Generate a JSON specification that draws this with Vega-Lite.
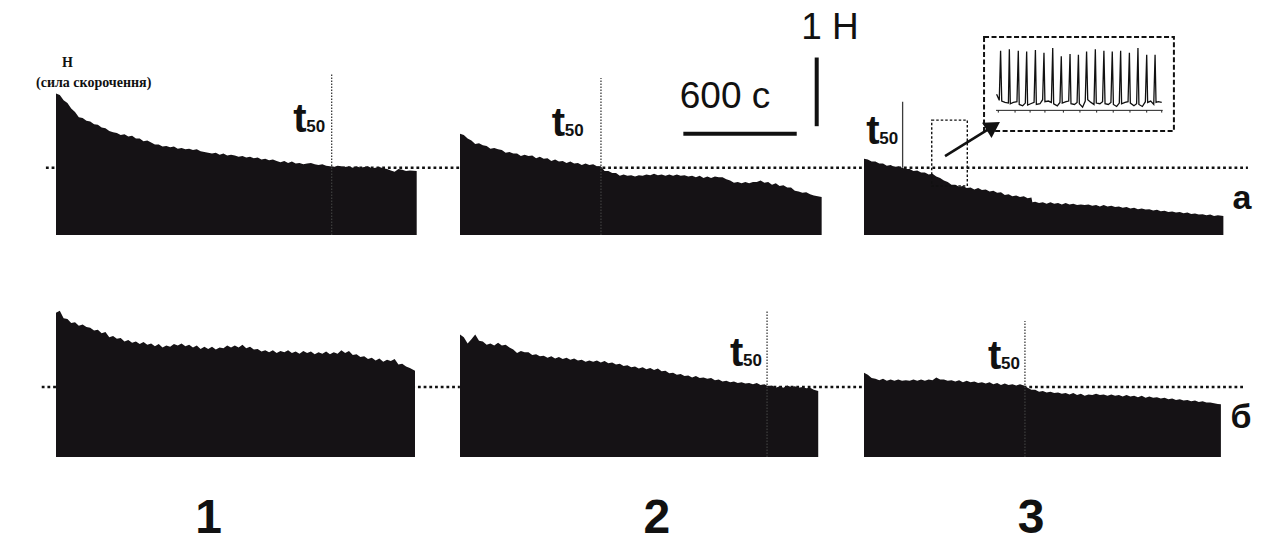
{
  "$schema": "https://vega.github.io/schema/vega-lite/v6.json",
  "background": "white",
  "padding": {"left": 36, "top": 9, "right": 0, "bottom": 0},
  "bounds": "flush",
  "data": {
    "values": [
      {"kind": "trace", "row": "а", "col": "1",
       "t": [0,20,40,60,80,100,120,140,160,180,200,220,240,260,280,300,320,340,360,380,400,420,440,460,480,500,520,540,560,580,600,620,640,660,680,700,720,740,760,780,800,820,840,860,880,900,920,940,960,980,1000,1020,1040,1060,1080,1100,1120,1140,1160,1180,1200,1220,1240,1260,1280,1300,1320,1340,1360,1380,1400,1420,1440,1460,1480,1500,1520,1540,1560,1580,1600,1620,1640,1660,1680,1700,1720,1740,1760,1780,1800,1820,1840,1860,1896],
       "f": [2.08,2.06,1.98,1.94,1.86,1.81,1.73,1.72,1.68,1.67,1.63,1.62,1.58,1.57,1.53,1.51,1.50,1.47,1.48,1.45,1.46,1.42,1.42,1.38,1.39,1.36,1.33,1.33,1.30,1.31,1.29,1.30,1.27,1.28,1.26,1.27,1.25,1.26,1.23,1.22,1.21,1.20,1.21,1.18,1.20,1.17,1.18,1.17,1.15,1.16,1.14,1.15,1.13,1.14,1.11,1.12,1.10,1.11,1.09,1.07,1.09,1.06,1.08,1.05,1.06,1.04,1.05,1.06,1.04,1.03,1.04,1.02,1.01,1.00,1.02,1.01,1.00,1.01,0.99,1.01,0.99,1.00,1.01,0.98,0.99,1.00,0.98,0.97,0.95,0.93,0.97,0.96,0.94,0.95,0.94]},
      {"kind": "trace", "row": "а", "col": "2",
       "t": [0,20,40,60,80,100,120,140,160,180,200,220,240,260,280,300,320,340,360,380,400,420,440,460,480,500,520,540,560,580,600,620,640,660,680,700,720,740,760,780,800,820,840,860,880,900,920,940,960,980,1000,1020,1040,1060,1080,1100,1120,1140,1160,1180,1200,1220,1240,1260,1280,1300,1320,1340,1360,1380,1400,1420,1440,1460,1480,1500,1520,1540,1560,1580,1600,1620,1640,1660,1680,1700,1720,1740,1760,1780,1800,1820,1840,1860,1901],
       "f": [1.49,1.47,1.42,1.39,1.34,1.35,1.32,1.31,1.27,1.28,1.26,1.25,1.21,1.22,1.20,1.20,1.16,1.18,1.16,1.17,1.13,1.15,1.12,1.13,1.09,1.11,1.08,1.09,1.06,1.08,1.05,1.06,1.03,1.05,1.03,1.04,1.01,1.01,0.94,0.94,0.91,0.91,0.87,0.89,0.87,0.88,0.86,0.88,0.87,0.89,0.88,0.90,0.88,0.89,0.87,0.89,0.87,0.89,0.87,0.88,0.86,0.87,0.85,0.87,0.84,0.86,0.84,0.86,0.85,0.85,0.82,0.80,0.77,0.78,0.76,0.78,0.76,0.78,0.78,0.80,0.77,0.78,0.74,0.76,0.72,0.73,0.70,0.70,0.65,0.64,0.62,0.63,0.60,0.58,0.56]},
      {"kind": "trace", "row": "а", "col": "3",
       "t": [0,20,40,60,80,100,120,140,160,180,200,220,240,260,280,300,320,340,360,380,400,420,440,460,480,500,520,540,560,580,600,620,640,660,680,700,720,740,760,780,800,820,840,860,880,885,900,920,940,960,980,1000,1020,1040,1060,1080,1100,1120,1140,1160,1180,1200,1220,1240,1260,1280,1300,1320,1340,1360,1380,1400,1420,1440,1460,1480,1500,1520,1540,1560,1580,1600,1620,1640,1660,1680,1700,1720,1740,1760,1780,1800,1820,1840,1860,1889],
       "f": [1.12,1.11,1.08,1.08,1.05,1.05,1.02,1.03,1.00,1.01,0.99,0.97,0.97,0.94,0.95,0.92,0.92,0.89,0.90,0.86,0.84,0.80,0.78,0.74,0.74,0.71,0.72,0.69,0.70,0.67,0.69,0.66,0.67,0.64,0.65,0.62,0.63,0.59,0.60,0.57,0.58,0.56,0.57,0.54,0.55,0.48,0.49,0.47,0.48,0.46,0.48,0.46,0.47,0.45,0.47,0.45,0.46,0.44,0.45,0.44,0.45,0.43,0.44,0.42,0.44,0.42,0.43,0.41,0.42,0.40,0.41,0.39,0.40,0.38,0.39,0.375,0.38,0.36,0.37,0.35,0.355,0.34,0.345,0.33,0.34,0.32,0.33,0.31,0.315,0.30,0.305,0.29,0.30,0.28,0.29,0.28]},
      {"kind": "trace", "row": "б", "col": "1",
       "t": [0,20,40,60,80,100,120,140,160,180,200,220,240,260,280,300,320,340,360,380,400,420,440,460,480,500,520,540,560,580,600,620,640,660,680,700,720,740,760,780,800,820,840,860,880,900,920,940,960,980,1000,1020,1040,1060,1080,1100,1120,1140,1160,1180,1200,1220,1240,1260,1280,1300,1320,1340,1360,1380,1400,1420,1440,1460,1480,1500,1520,1540,1560,1580,1600,1620,1640,1660,1680,1700,1720,1740,1760,1780,1800,1820,1840,1860,1887],
       "f": [2.12,2.15,2.04,2.03,1.97,1.98,1.93,1.95,1.91,1.90,1.86,1.87,1.82,1.84,1.76,1.78,1.74,1.75,1.70,1.72,1.68,1.70,1.66,1.69,1.65,1.67,1.63,1.66,1.61,1.64,1.62,1.66,1.64,1.67,1.63,1.65,1.61,1.64,1.59,1.62,1.59,1.62,1.58,1.61,1.60,1.64,1.61,1.64,1.61,1.65,1.60,1.62,1.58,1.59,1.55,1.57,1.54,1.57,1.53,1.56,1.54,1.57,1.53,1.55,1.52,1.56,1.53,1.55,1.51,1.54,1.52,1.55,1.51,1.54,1.52,1.57,1.53,1.56,1.50,1.51,1.47,1.48,1.44,1.46,1.42,1.45,1.40,1.43,1.41,1.44,1.36,1.37,1.33,1.31,1.27]},
      {"kind": "trace", "row": "б", "col": "2",
       "t": [0,20,40,60,80,100,120,140,160,180,200,220,240,260,280,300,320,340,360,380,400,420,440,460,480,500,520,540,560,580,600,620,640,660,680,700,720,740,760,780,800,820,840,860,880,900,920,940,960,980,1000,1020,1040,1060,1080,1100,1120,1140,1160,1180,1200,1220,1240,1260,1280,1300,1320,1340,1360,1380,1400,1420,1440,1460,1480,1500,1520,1540,1560,1580,1600,1620,1640,1660,1680,1700,1720,1740,1760,1780,1800,1820,1840,1860,1883],
       "f": [1.80,1.76,1.67,1.73,1.80,1.71,1.70,1.65,1.67,1.64,1.68,1.64,1.65,1.61,1.58,1.53,1.56,1.54,1.54,1.50,1.51,1.48,1.49,1.46,1.48,1.45,1.47,1.44,1.46,1.43,1.45,1.42,1.43,1.40,1.42,1.40,1.42,1.39,1.41,1.38,1.39,1.36,1.37,1.34,1.35,1.32,1.33,1.30,1.32,1.29,1.31,1.28,1.30,1.26,1.27,1.23,1.24,1.21,1.22,1.19,1.20,1.17,1.19,1.16,1.17,1.15,1.16,1.13,1.14,1.11,1.12,1.10,1.11,1.09,1.10,1.08,1.09,1.07,1.09,1.06,1.07,1.04,1.05,1.02,1.04,1.02,1.05,1.03,1.04,1.02,1.03,1.01,1.02,0.99,0.97]},
      {"kind": "trace", "row": "б", "col": "3",
       "t": [0,20,40,60,80,100,120,140,160,180,200,220,240,260,280,300,320,340,360,380,400,420,440,460,480,500,520,540,560,580,600,620,640,660,680,700,720,740,760,780,800,820,840,860,880,900,920,940,960,980,1000,1020,1040,1060,1080,1100,1120,1140,1160,1180,1200,1220,1240,1260,1280,1300,1320,1340,1360,1380,1400,1420,1440,1460,1480,1500,1520,1540,1560,1580,1600,1620,1640,1660,1680,1700,1720,1740,1760,1780,1800,1820,1840,1860,1876],
       "f": [1.24,1.21,1.16,1.15,1.13,1.15,1.12,1.14,1.12,1.14,1.12,1.13,1.12,1.14,1.12,1.14,1.12,1.14,1.13,1.17,1.14,1.14,1.12,1.13,1.11,1.13,1.10,1.12,1.10,1.11,1.09,1.10,1.08,1.10,1.07,1.09,1.06,1.08,1.06,1.07,1.05,1.07,1.05,1.02,0.99,0.99,0.96,0.97,0.95,0.96,0.94,0.95,0.93,0.94,0.92,0.94,0.91,0.93,0.90,0.92,0.91,0.93,0.91,0.92,0.90,0.92,0.90,0.91,0.89,0.91,0.89,0.90,0.88,0.90,0.87,0.89,0.87,0.88,0.86,0.87,0.85,0.86,0.84,0.85,0.83,0.84,0.82,0.83,0.81,0.82,0.80,0.80,0.79,0.78,0.775]},

      {"kind": "ref", "row": "а", "col": "1", "t": -53, "t2": 2123, "f": 0.99},
      {"kind": "ref", "row": "а", "col": "2", "t": 0, "t2": 2123, "f": 0.99},
      {"kind": "ref", "row": "а", "col": "3", "t": 0, "t2": 2018, "f": 0.99},
      {"kind": "ref", "row": "б", "col": "1", "t": -75, "t2": 2123, "f": 1.03},
      {"kind": "ref", "row": "б", "col": "2", "t": 0, "t2": 2123, "f": 1.03},
      {"kind": "ref", "row": "б", "col": "3", "t": 0, "t2": 2003, "f": 1.03},

      {"kind": "t50", "row": "а", "col": "1", "t": 1449, "f": 0, "f2": 2.37, "lt": 1247, "lf": 1.52, "style": "dot"},
      {"kind": "t50", "row": "а", "col": "2", "t": 741, "f": 0, "f2": 2.31, "lt": 482, "lf": 1.46, "style": "dot"},
      {"kind": "t50", "row": "а", "col": "3", "t": 203, "f": 0.99, "f2": 1.96, "lt": 12, "lf": 1.34, "style": "solid"},
      {"kind": "t50", "row": "б", "col": "2", "t": 1614, "f": 0, "f2": 2.15, "lt": 1419, "lf": 1.34, "style": "dot"},
      {"kind": "t50", "row": "б", "col": "3", "t": 846, "f": 0, "f2": 2.0, "lt": 652, "lf": 1.29, "style": "dot"},

      {"kind": "bar", "row": "а", "col": "2", "t": 1174, "t2": 1770, "f": 1.49, "f2": 1.49},
      {"kind": "bar", "row": "а", "col": "2", "t": 1875, "t2": 1875, "f": 1.60, "f2": 2.61},
      {"kind": "btxt", "row": "а", "col": "2", "t": 1393, "f": 1.87, "label": "600 с"},
      {"kind": "btxt", "row": "а", "col": "2", "t": 1945, "f": 2.88, "label": "1 Н"},

      {"kind": "rtxt", "row": "а", "col": "3", "t": 1987, "f": 0.38, "label": "а"},
      {"kind": "rtxt", "row": "б", "col": "3", "t": 1982, "f": 0.43, "label": "б"},
      {"kind": "ctxt", "row": "б", "col": "1", "t": 802, "f": -1.118, "label": "1"},
      {"kind": "ctxt", "row": "б", "col": "2", "t": 1035, "f": -1.118, "label": "2"},
      {"kind": "ctxt", "row": "б", "col": "3", "t": 878, "f": -1.118, "label": "3"},
      {"kind": "htxt", "row": "а", "col": "1", "t": 32, "f": 2.47, "label": "Н"},
      {"kind": "htxt", "row": "а", "col": "1", "t": -105, "f": 2.18, "label": "(сила скорочення)"},

      {"kind": "zbox", "row": "а", "col": "3", "t": 356, "t2": 543, "f": 1.69, "f2": 0.72},
      {"kind": "ibox", "row": "а", "col": "3", "t": 631, "t2": 1629, "f": 2.91, "f2": 1.53},
      {"kind": "arrow", "row": "а", "col": "3", "t": 426, "t2": 680, "f": 1.16, "f2": 1.60},
      {"kind": "ahead", "row": "а", "col": "3", "t": 680, "f": 1.60},

      {"kind": "iaxis", "row": "а", "col": "3", "t": 694, "t2": 1570, "f": 1.833, "f2": 1.833},
      {"kind": "iaxis", "row": "а", "col": "3", "t": 706, "t2": 706, "f": 1.833, "f2": 1.80},
      {"kind": "iaxis", "row": "а", "col": "3", "t": 794, "t2": 794, "f": 1.833, "f2": 1.80},
      {"kind": "iaxis", "row": "а", "col": "3", "t": 873, "t2": 873, "f": 1.833, "f2": 1.80},
      {"kind": "iaxis", "row": "а", "col": "3", "t": 951, "t2": 951, "f": 1.833, "f2": 1.80},
      {"kind": "iaxis", "row": "а", "col": "3", "t": 1048, "t2": 1048, "f": 1.833, "f2": 1.80},
      {"kind": "iaxis", "row": "а", "col": "3", "t": 1135, "t2": 1135, "f": 1.833, "f2": 1.80},
      {"kind": "iaxis", "row": "а", "col": "3", "t": 1223, "t2": 1223, "f": 1.833, "f2": 1.80},
      {"kind": "iaxis", "row": "а", "col": "3", "t": 1310, "t2": 1310, "f": 1.833, "f2": 1.80},
      {"kind": "iaxis", "row": "а", "col": "3", "t": 1398, "t2": 1398, "f": 1.833, "f2": 1.80},
      {"kind": "iaxis", "row": "а", "col": "3", "t": 1486, "t2": 1486, "f": 1.833, "f2": 1.80},
      {"kind": "iaxis", "row": "а", "col": "3", "t": 1565, "t2": 1565, "f": 1.833, "f2": 1.80},
      {"kind": "inset", "row": "а", "col": "3",
       "t": [697,711,718,724,741,759,764,769,785,804,811,816,834,848,855,860,876,894,901,906,925,939,946,951,969,985,992,997,1016,1030,1037,1042,1062,1076,1083,1088,1106,1120,1127,1132,1149,1163,1170,1176,1193,1209,1216,1221,1240,1254,1261,1267,1284,1298,1305,1311,1328,1342,1349,1354,1372,1388,1395,1400,1419,1433,1440,1445,1463,1479,1486,1491,1507,1523,1530,1535,1547,1565],
       "f": [2.07,1.98,2.71,1.97,1.95,1.94,2.73,1.93,1.95,1.96,2.71,1.92,1.90,1.94,2.70,1.91,1.93,1.95,2.72,1.92,1.93,1.99,2.68,1.96,1.97,1.95,2.75,1.93,1.90,1.95,2.63,1.94,1.96,1.97,2.66,1.93,1.92,1.95,2.65,1.93,1.88,1.97,2.70,1.99,1.95,1.92,2.73,1.94,1.93,1.96,2.71,1.93,1.92,1.95,2.70,1.92,1.89,1.94,2.71,1.93,1.95,1.96,2.68,1.94,1.90,1.93,2.75,1.92,1.89,1.96,2.65,1.95,1.97,1.92,2.65,1.95,1.96,1.95]}
    ]
  },
  "facet": {
    "row": {"field": "row", "type": "nominal", "header": null, "sort": ["а", "б"]},
    "column": {"field": "col", "type": "nominal", "header": null, "sort": ["1", "2", "3"]}
  },
  "spacing": {"row": 18, "column": 14},
  "spec": {
    "width": 390,
    "height": 204,
    "layer": [
      {
        "transform": [{"filter": "datum.kind === 'ref'"}],
        "mark": {"type": "rule", "color": "#111111", "strokeWidth": 2.6, "strokeDash": [2.8, 2.9], "strokeCap": "butt"},
        "encoding": {
          "x": {"field": "t", "type": "quantitative", "scale": {"domain": [0, 2050], "nice": false, "zero": false}},
          "x2": {"field": "t2"},
          "y": {"field": "f", "type": "quantitative", "scale": {"domain": [0, 3], "nice": false, "zero": false}}
        }
      },
      {
        "transform": [{"filter": "datum.kind === 'trace'"}, {"flatten": ["t", "f"]}],
        "mark": {"type": "area", "color": "#151215", "orient": "vertical", "interpolate": "linear"},
        "encoding": {
          "x": {"field": "t", "type": "quantitative", "scale": {"domain": [0, 2050], "nice": false, "zero": false}},
          "y": {"field": "f", "type": "quantitative", "scale": {"domain": [0, 3], "nice": false, "zero": false}}
        }
      },
      {
        "transform": [{"filter": "datum.kind === 't50'"}],
        "mark": {"type": "rule", "color": "#3c3c3c", "strokeWidth": 1.3},
        "encoding": {
          "x": {"field": "t", "type": "quantitative", "scale": {"domain": [0, 2050], "nice": false, "zero": false}},
          "y": {"field": "f", "type": "quantitative", "scale": {"domain": [0, 3], "nice": false, "zero": false}},
          "y2": {"field": "f2"},
          "strokeDash": {"field": "style", "type": "nominal", "scale": {"domain": ["dot", "solid"], "range": [[1.5, 1.5], [1, 0]]}, "legend": null}
        }
      },
      {
        "transform": [{"filter": "datum.kind === 't50'"}],
        "mark": {"type": "text", "text": "t", "font": "Liberation Sans", "fontWeight": "bold", "fontSize": 40, "align": "left", "baseline": "alphabetic", "color": "#111111"},
        "encoding": {
          "x": {"field": "lt", "type": "quantitative", "scale": {"domain": [0, 2050], "nice": false, "zero": false}},
          "y": {"field": "lf", "type": "quantitative", "scale": {"domain": [0, 3], "nice": false, "zero": false}}
        }
      },
      {
        "transform": [{"filter": "datum.kind === 't50'"}],
        "mark": {"type": "text", "text": "50", "font": "Liberation Sans", "fontWeight": "bold", "fontSize": 17, "align": "left", "baseline": "alphabetic", "dx": 13, "color": "#111111"},
        "encoding": {
          "x": {"field": "lt", "type": "quantitative", "scale": {"domain": [0, 2050], "nice": false, "zero": false}},
          "y": {"field": "lf", "type": "quantitative", "scale": {"domain": [0, 3], "nice": false, "zero": false}}
        }
      },
      {
        "transform": [{"filter": "datum.kind === 'bar'"}],
        "mark": {"type": "rule", "color": "#111111", "strokeWidth": 4, "strokeCap": "butt"},
        "encoding": {
          "x": {"field": "t", "type": "quantitative", "scale": {"domain": [0, 2050], "nice": false, "zero": false}},
          "x2": {"field": "t2"},
          "y": {"field": "f", "type": "quantitative", "scale": {"domain": [0, 3], "nice": false, "zero": false}},
          "y2": {"field": "f2"}
        }
      },
      {
        "transform": [{"filter": "datum.kind === 'btxt'"}],
        "mark": {"type": "text", "font": "Liberation Sans", "fontSize": 37, "align": "center", "baseline": "alphabetic", "color": "#111111"},
        "encoding": {
          "x": {"field": "t", "type": "quantitative", "scale": {"domain": [0, 2050], "nice": false, "zero": false}},
          "y": {"field": "f", "type": "quantitative", "scale": {"domain": [0, 3], "nice": false, "zero": false}},
          "text": {"field": "label"}
        }
      },
      {
        "transform": [{"filter": "datum.kind === 'rtxt'"}],
        "mark": {"type": "text", "font": "Liberation Sans", "fontWeight": "bold", "fontSize": 34, "align": "center", "baseline": "alphabetic", "color": "#111111"},
        "encoding": {
          "x": {"field": "t", "type": "quantitative", "scale": {"domain": [0, 2050], "nice": false, "zero": false}},
          "y": {"field": "f", "type": "quantitative", "scale": {"domain": [0, 3], "nice": false, "zero": false}},
          "text": {"field": "label"}
        }
      },
      {
        "transform": [{"filter": "datum.kind === 'ctxt'"}],
        "mark": {"type": "text", "font": "Liberation Sans", "fontWeight": "bold", "fontSize": 48, "align": "center", "baseline": "alphabetic", "color": "#111111"},
        "encoding": {
          "x": {"field": "t", "type": "quantitative", "scale": {"domain": [0, 2050], "nice": false, "zero": false}},
          "y": {"field": "f", "type": "quantitative", "scale": {"domain": [0, 3], "nice": false, "zero": false}},
          "text": {"field": "label"}
        }
      },
      {
        "transform": [{"filter": "datum.kind === 'htxt'"}],
        "mark": {"type": "text", "font": "Liberation Serif", "fontWeight": "bold", "fontSize": 14, "align": "left", "baseline": "alphabetic", "color": "#111111"},
        "encoding": {
          "x": {"field": "t", "type": "quantitative", "scale": {"domain": [0, 2050], "nice": false, "zero": false}},
          "y": {"field": "f", "type": "quantitative", "scale": {"domain": [0, 3], "nice": false, "zero": false}},
          "text": {"field": "label"}
        }
      },
      {
        "transform": [{"filter": "datum.kind === 'zbox'"}],
        "mark": {"type": "rect", "color": "#111111", "fillOpacity": 0, "stroke": "#111111", "strokeWidth": 1.4, "strokeDash": [2.5, 2]},
        "encoding": {
          "x": {"field": "t", "type": "quantitative", "scale": {"domain": [0, 2050], "nice": false, "zero": false}},
          "x2": {"field": "t2"},
          "y": {"field": "f", "type": "quantitative", "scale": {"domain": [0, 3], "nice": false, "zero": false}},
          "y2": {"field": "f2"}
        }
      },
      {
        "transform": [{"filter": "datum.kind === 'ibox'"}],
        "mark": {"type": "rect", "color": "#111111", "fillOpacity": 0, "stroke": "#111111", "strokeWidth": 2, "strokeDash": [5, 2.5]},
        "encoding": {
          "x": {"field": "t", "type": "quantitative", "scale": {"domain": [0, 2050], "nice": false, "zero": false}},
          "x2": {"field": "t2"},
          "y": {"field": "f", "type": "quantitative", "scale": {"domain": [0, 3], "nice": false, "zero": false}},
          "y2": {"field": "f2"}
        }
      },
      {
        "transform": [{"filter": "datum.kind === 'arrow'"}],
        "mark": {"type": "rule", "color": "#111111", "strokeWidth": 2.6},
        "encoding": {
          "x": {"field": "t", "type": "quantitative", "scale": {"domain": [0, 2050], "nice": false, "zero": false}},
          "x2": {"field": "t2"},
          "y": {"field": "f", "type": "quantitative", "scale": {"domain": [0, 3], "nice": false, "zero": false}},
          "y2": {"field": "f2"}
        }
      },
      {
        "transform": [{"filter": "datum.kind === 'ahead'"}],
        "mark": {"type": "point", "shape": "triangle-up", "filled": true, "size": 320, "angle": 58, "color": "#111111", "opacity": 1},
        "encoding": {
          "x": {"field": "t", "type": "quantitative", "scale": {"domain": [0, 2050], "nice": false, "zero": false}},
          "y": {"field": "f", "type": "quantitative", "scale": {"domain": [0, 3], "nice": false, "zero": false}}
        }
      },
      {
        "transform": [{"filter": "datum.kind === 'iaxis'"}],
        "mark": {"type": "rule", "color": "#222222", "strokeWidth": 1},
        "encoding": {
          "x": {"field": "t", "type": "quantitative", "scale": {"domain": [0, 2050], "nice": false, "zero": false}},
          "x2": {"field": "t2"},
          "y": {"field": "f", "type": "quantitative", "scale": {"domain": [0, 3], "nice": false, "zero": false}},
          "y2": {"field": "f2"}
        }
      },
      {
        "transform": [{"filter": "datum.kind === 'inset'"}, {"flatten": ["t", "f"]}],
        "mark": {"type": "line", "color": "#111111", "strokeWidth": 1.3, "interpolate": "linear"},
        "encoding": {
          "x": {"field": "t", "type": "quantitative", "scale": {"domain": [0, 2050], "nice": false, "zero": false}},
          "y": {"field": "f", "type": "quantitative", "scale": {"domain": [0, 3], "nice": false, "zero": false}}
        }
      }
    ]
  },
  "config": {
    "view": {"stroke": null},
    "axis": {"disable": true}
  }
}
